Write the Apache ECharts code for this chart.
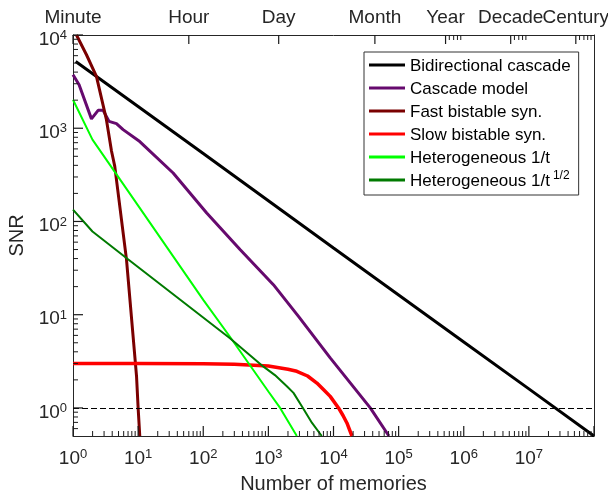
<!DOCTYPE html>
<html>
<head>
<meta charset="utf-8">
<script src="https://cdn.jsdelivr.net/npm/echarts@6/dist/echarts.min.js"></script>
<style>
html,body{margin:0;padding:0;background:#ffffff;}
#chart{width:608px;height:497px;}
</style>
</head>
<body>
<div id="chart"></div>
<script>
// ---- data: [number of memories, SNR] ----
const seriesNames = ['Bidirectional cascade', 'Cascade model', 'Fast bistable syn.', 'Slow bistable syn.', 'Heterogeneous 1/t', 'Heterogeneous 1/t^1/2'];
const bidirectional = [[1.1,5200],[10,1710],[100,535],[1000,167],[1e4,52],[1e5,16.3],[1e6,5.1],[1e7,1.6],[1e8,0.5]];
const cascade = [[1,3750],[1.24,2930],[1.92,1260],[2.43,1555],[2.9,1555],[3.58,1184],[4.65,1120],[5.88,966],[10.6,720],[34.5,331],[113,123],[367,50],[1194,21],[2900,9.6],[8900,3.44],[36700,1.0],[71000,0.5]];
const fastBistable = [[1.13,10000],[1.61,6140],[2.29,3600],[3.26,1236],[3.9,570],[4.38,390],[6.63,39],[9.45,2.2],[10,1.0],[10.6,0.5]];
const slowBistable = [[1,3.0],[10,3.0],[100,2.98],[300,2.94],[1000,2.81],[2000,2.6],[2735,2.47],[4000,2.2],[5560,1.85],[7000,1.58],[8900,1.33],[11940,1.0],[14000,0.83],[16070,0.69],[19200,0.5]];
const heteroInv = [[1,2020],[1.99,754],[10,148],[100,14.4],[257,5.8],[1000,1.5],[1514,1.0],[2735,0.5]];
const heteroInvSqrt = [[1,134],[1.99,78],[6.6,40.6],[257,5.6],[832,2.79],[1260,2.25],[1920,1.71],[2430,1.45],[3390,1.0],[4680,0.69],[6600,0.5]];
const threshold = 1;

// ---- axis ticks / labels ----
const xMajorTicks = [1,10,100,1000,1e4,1e5,1e6,1e7,1e8];
const xLabelTicks = [1,10,100,1000,1e4,1e5,1e6,1e7];
const yMajorTicks = [1,10,100,1000,10000];
const minorMantissas = [2,3,4,5,6,7,8,9];
const xMinorDecades = [1,10,100,1000,1e4,1e5,1e6,1e7];
const yMinorDecades = [1,10,100,1000];
const yMinorBelowOne = [0.6,0.7,0.8,0.9];
const timeNames = ['Minute','Hour','Day','Month','Year','Decade','Century'];
const timeValues = [1,60,1440,43200,525600,5256000,52560000];
const topMinorTicks = [6e5,7e5,8e5,9e5,6e6,7e6,8e6,9e6,6e7,7e7,8e7,9e7];

const xMinorTicks = [];
xMinorDecades.forEach(d => minorMantissas.forEach(m => xMinorTicks.push(m * d)));
const yMinorTicks = yMinorBelowOne.slice();
yMinorDecades.forEach(d => minorMantissas.forEach(m => yMinorTicks.push(m * d)));
const timeValuesA = timeValues.filter((v, i) => i % 2 === 0);
const timeValuesB = timeValues.filter((v, i) => i % 2 === 1);

const colors = ['#000000','#660a6e','#7a0000','#ff0000','#00ff00','#007a00'];
const widths = [3,3,3,3.5,2,2];
const dataSets = [bidirectional, cascade, fastBistable, slowBistable, heteroInv, heteroInvSqrt];

const FONT = '"Liberation Sans", Arial, Helvetica, sans-serif';
const AX = '#262626';
const TICK = '#1a1a1a';

const supRich = {
  b: {fontSize: 19, fontFamily: FONT, color: AX, lineHeight: 20, padding: [3,0,0,0], verticalAlign: 'bottom'},
  s: {fontSize: 13, fontFamily: FONT, color: AX, lineHeight: 14, verticalAlign: 'top'}
};
function powLabel(v) {
  const e = Math.round(Math.log10(v));
  return '{b|10}{s|' + e + '}';
}
function timeLabel(v) {
  let best = 0, bd = Infinity;
  timeValues.forEach((t, i) => { const d = Math.abs(Math.log10(t) - Math.log10(v)); if (d < bd) { bd = d; best = i; } });
  return timeNames[best];
}

// tick marks drawn through the axes' own scales (api.coord)
function tickSeries(values, side, len, lw) {
  return {
    type: 'custom',
    coordinateSystem: 'cartesian2d',
    xAxisIndex: 0, yAxisIndex: 0,
    silent: true, clip: false, z: 20,
    data: values.map(v => (side === 'left' ? [1, v] : [v, 1])),
    encode: {x: 0, y: 1},
    renderItem: function (params, api) {
      const cs = params.coordSys;
      let shape;
      if (side === 'left') {
        const y = api.coord([1, api.value(1)])[1];
        shape = {x1: cs.x, y1: y, x2: cs.x + len, y2: y};
      } else {
        const x = api.coord([api.value(0), 1])[0];
        if (side === 'bottom') {
          const yb = cs.y + cs.height;
          shape = {x1: x, y1: yb, x2: x, y2: yb - len};
        } else {
          shape = {x1: x, y1: cs.y, x2: x, y2: cs.y + len};
        }
      }
      return {type: 'line', shape: shape, style: {stroke: TICK, lineWidth: lw, fill: null}};
    }
  };
}

const chart = echarts.init(document.getElementById('chart'), null, {renderer: 'canvas'});

const baseLog = {type: 'log', logBase: 10, splitLine: {show: false}, minorTick: {show: false}, minorSplitLine: {show: false}, axisTick: {show: false}};

const lineSeries = dataSets.map((d, i) => {
  const s = {
    name: seriesNames[i],
    type: 'line',
    xAxisIndex: 0,
    yAxisIndex: 0,
    data: d,
    showSymbol: false,
    symbol: 'none',
    smooth: false,
    clip: true,
    color: colors[i],
    lineStyle: {color: colors[i], width: widths[i]},
    itemStyle: {color: colors[i]},
    z: 2 + i
  };
  if (i === 0) {
    s.markLine = {
      silent: true, symbol: ['none','none'], label: {show: false},
      lineStyle: {color: '#000', width: 1, type: [6,3]},
      emphasis: {disabled: true},
      data: [{yAxis: threshold}]
    };
  }
  return s;
});

const option = {
  backgroundColor: '#ffffff',
  animation: false,
  textStyle: {fontFamily: FONT},
  grid: {left: 73, right: 14, top: 35, bottom: 61, containLabel: false, outerBoundsMode: 'none'},
  legend: {
    show: true,
    orient: 'vertical',
    left: 364,
    top: 52,
    padding: [3, 8, 5, 5],
    itemGap: 3,
    itemWidth: 36,
    itemHeight: 3,
    icon: 'rect',
    borderColor: '#333333',
    borderWidth: 1,
    backgroundColor: '#ffffff',
    selectedMode: false,
    data: seriesNames,
    formatter: function (name) {
      if (name === seriesNames[5]) return '{n|Heterogeneous 1/t}{s|1/2}';
      return '{n|' + name + '}';
    },
    textStyle: {
      fontFamily: FONT, fontSize: 17, color: '#000', lineHeight: 20,
      rich: {
        n: {fontFamily: FONT, fontSize: 17, color: '#000', lineHeight: 20, verticalAlign: 'bottom'},
        s: {fontFamily: FONT, fontSize: 12, color: '#000', lineHeight: 13, padding: [0,0,0,3], verticalAlign: 'top'}
      }
    }
  },
  xAxis: [
    Object.assign({}, baseLog, {
      position: 'bottom', min: 1, max: 1e8,
      name: 'Number of memories', nameLocation: 'middle', nameGap: 38,
      nameTextStyle: {fontFamily: FONT, fontSize: 20, color: AX},
      axisLine: {show: true, onZero: false, lineStyle: {color: AX, width: 1}},
      axisLabel: {show: true, margin: 12, customValues: xLabelTicks, formatter: powLabel, rich: supRich}
    }),
    Object.assign({}, baseLog, {
      position: 'top', min: 1, max: 1e8,
      axisLine: {show: true, onZero: false, lineStyle: {color: AX, width: 1}},
      axisLabel: {show: true, margin: 8, customValues: timeValuesA, fontFamily: FONT, fontSize: 19, color: AX, formatter: timeLabel}
    }),
    Object.assign({}, baseLog, {
      position: 'top', min: 1, max: 1e8,
      axisLine: {show: false, onZero: false},
      axisLabel: {show: true, margin: 8, customValues: timeValuesB, fontFamily: FONT, fontSize: 19, color: AX, formatter: timeLabel}
    })
  ],
  yAxis: [
    Object.assign({}, baseLog, {
      position: 'left', min: 0.5, max: 1e4,
      name: 'SNR', nameLocation: 'middle', nameGap: 46, nameRotate: 90,
      nameTextStyle: {fontFamily: FONT, fontSize: 20, color: AX},
      axisLine: {show: true, onZero: false, lineStyle: {color: AX, width: 1}},
      axisLabel: {show: true, margin: 6, customValues: yMajorTicks, formatter: powLabel, rich: supRich, padding: [8,0,0,0]}
    }),
    Object.assign({}, baseLog, {
      position: 'right', min: 0.5, max: 1e4,
      axisLine: {show: true, onZero: false, lineStyle: {color: AX, width: 1}},
      axisLabel: {show: false}
    })
  ],
  series: lineSeries.concat([
    tickSeries(xMajorTicks, 'bottom', 10, 1.2),
    tickSeries(xMinorTicks, 'bottom', 5, 1),
    tickSeries(yMajorTicks, 'left', 10, 1.2),
    tickSeries(yMinorTicks, 'left', 5, 1),
    tickSeries(timeValues, 'top', 9, 1.2),
    tickSeries(topMinorTicks, 'top', 5, 1)
  ])
};
chart.setOption(option);
</script>
</body>
</html>
